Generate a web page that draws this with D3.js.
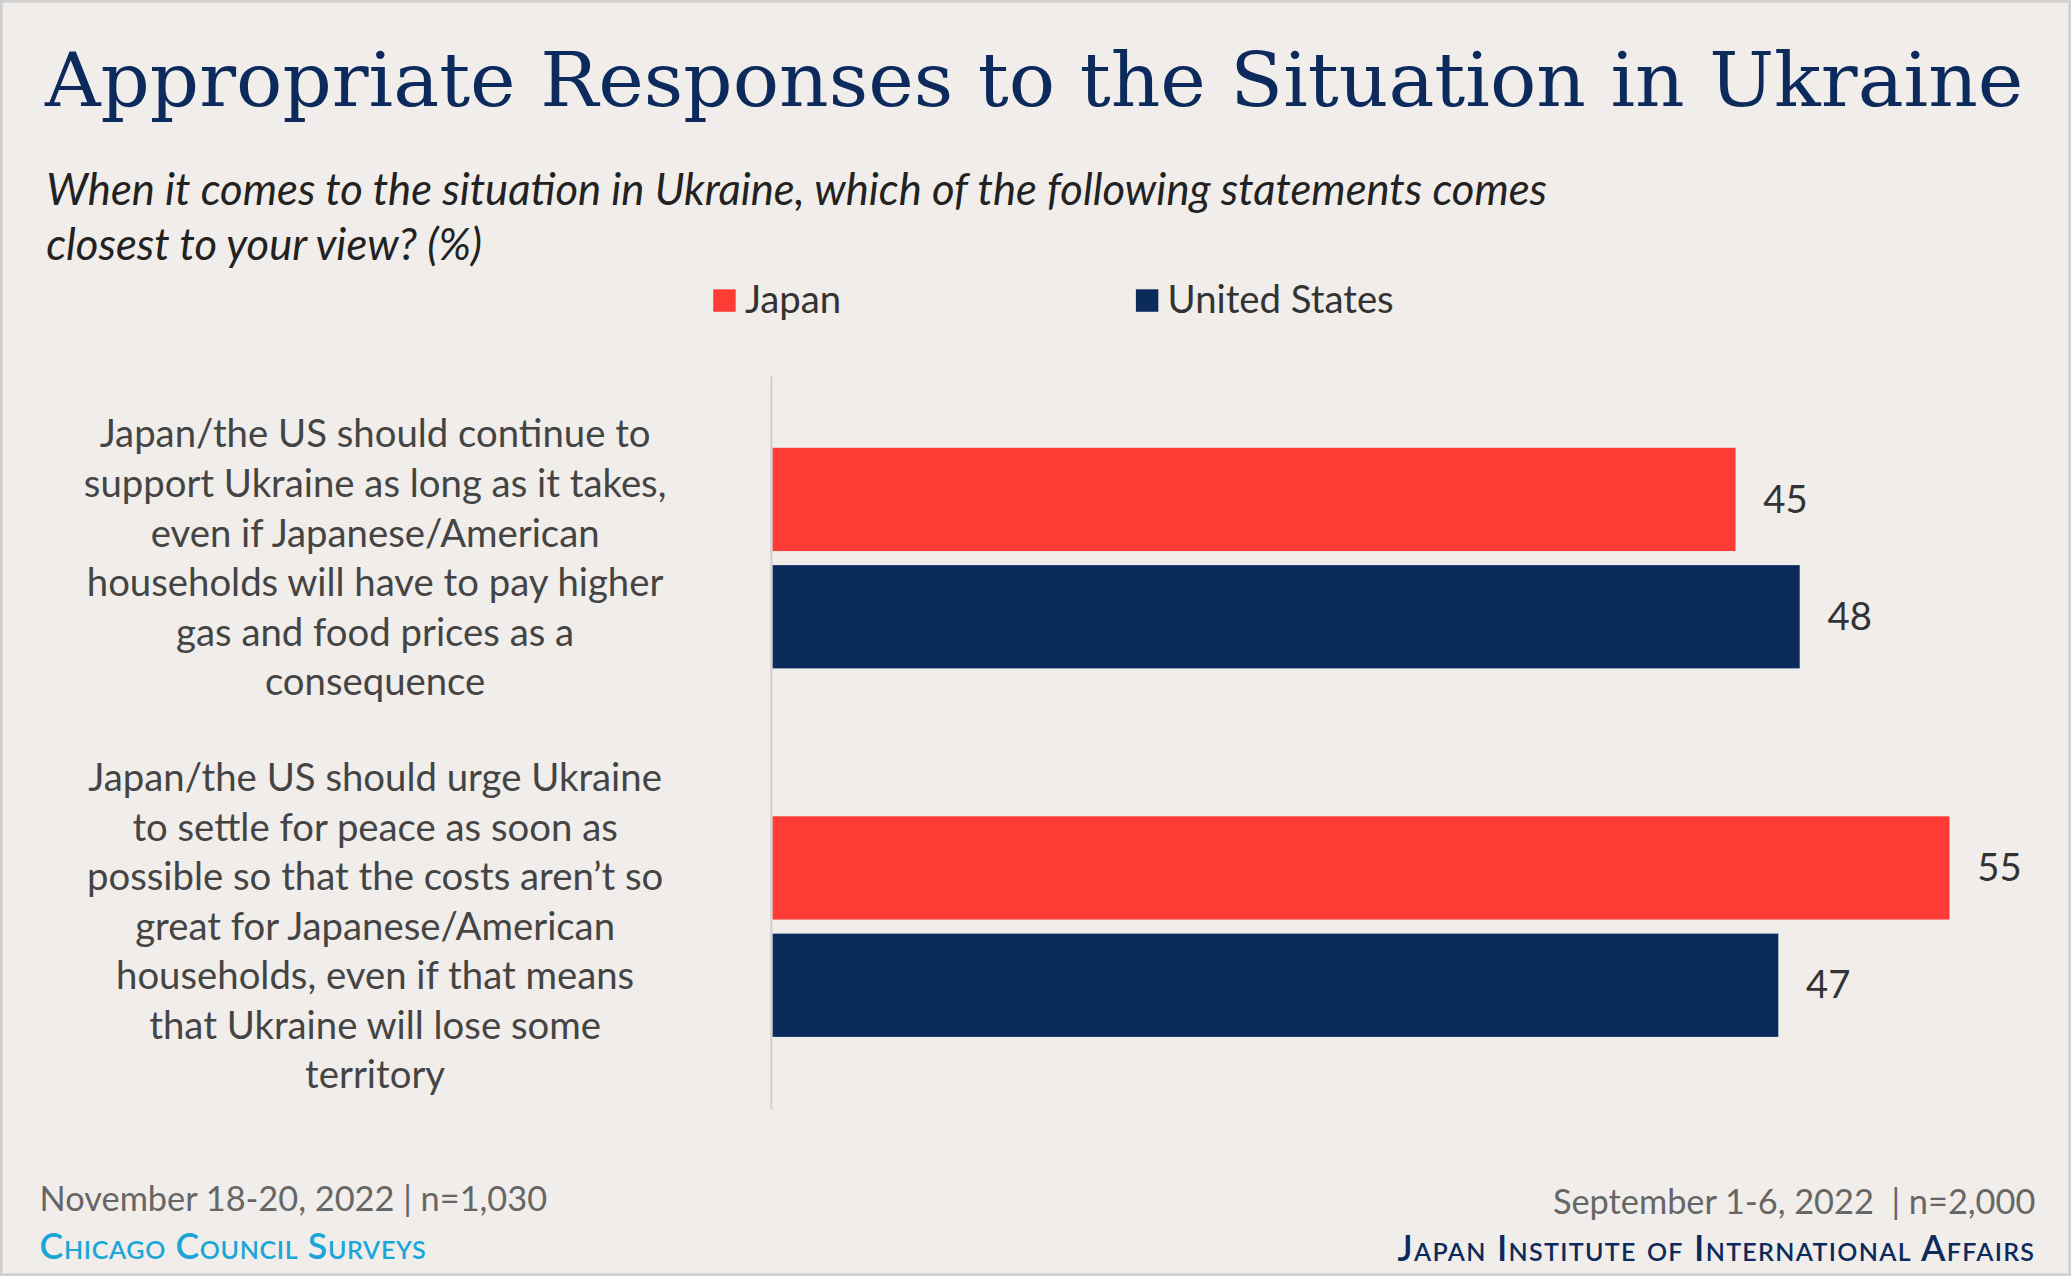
<!DOCTYPE html>
<html><head><meta charset="utf-8">
<script src="https://cdn.jsdelivr.net/npm/d3@7"></script>
<style>
html,body{margin:0;padding:0;background:#f0edea;}
svg{display:block;}
</style></head>
<body>
<svg id="chart"></svg>
<script>
const categories = [
  ["Japan/the US should continue to", "support Ukraine as long as it takes,", "even if Japanese/American", "households will have to pay higher", "gas and food prices as a", "consequence"],
  ["Japan/the US should urge Ukraine", "to settle for peace as soon as", "possible so that the costs aren\u2019t so", "great for Japanese/American", "households, even if that means", "that Ukraine will lose some", "territory"]
];
const seriesNames = ["Japan", "United States"];
const japanValues = [45, 55];
const usValues = [48, 47];
const colors = ["#ff3b36", "#0a2b5c"];

const W = 1568, H = 966;
const svg = d3.select("#chart")
  .attr("width", 2071).attr("height", 1276)
  .attr("viewBox", `0 0 ${W} ${H}`);

svg.append("rect").attr("x", 1).attr("y", 1).attr("width", W - 2).attr("height", H - 2)
  .attr("fill", "#f0edea").attr("stroke", "#cfcfcf").attr("stroke-width", 2);

const sans = "Lato, 'Open Sans', sans-serif";

svg.append("text").attr("x", 34).attr("y", 80)
  .attr("font-family", "'DejaVu Serif', 'Liberation Serif', serif")
  .attr("font-size", 56).attr("fill", "#0c2a5b")
  .attr("textLength", 1498).attr("lengthAdjust", "spacingAndGlyphs")
  .text("Appropriate Responses to the Situation in Ukraine");

["When it comes to the situation in Ukraine, which of the following statements comes",
 "closest to your view? (%)"].forEach((t, i) => {
  svg.append("text").attr("x", 35).attr("y", 155 + i * 42)
    .attr("font-family", sans).attr("font-style", "italic")
    .attr("font-size", 33).attr("fill", "#222").text(t);
});

// legend
const legendX = [540, 860];
seriesNames.forEach((s, i) => {
  svg.append("rect").attr("x", legendX[i]).attr("y", 219).attr("width", 17).attr("height", 17).attr("fill", colors[i]);
  svg.append("text").attr("x", legendX[i] + 24).attr("y", 237)
    .attr("font-family", sans).attr("font-size", 29).attr("fill", "#333").text(s);
});

const x = d3.scaleLinear().domain([0, 55]).range([585, 1476]);
const y = d3.scaleBand().domain([0, 1]).range([292, 850]).paddingInner(0).paddingOuter(0);
const inner = d3.scaleBand().domain([0, 1]).range([0, 167]).paddingInner(0.12);
const groupTop = [339, 618];

svg.append("line").attr("x1", 584).attr("x2", 584).attr("y1", 285).attr("y2", 840)
  .attr("stroke", "#d0d0d0").attr("stroke-width", 1.5);

categories.forEach((lines, g) => {
  const vals = [japanValues[g], usValues[g]];
  vals.forEach((v, s) => {
    const by = groupTop[g] + inner(s);
    svg.append("rect").attr("x", x(0)).attr("y", by)
      .attr("width", x(v) - x(0)).attr("height", inner.bandwidth()).attr("fill", colors[s]);
    svg.append("text").attr("x", x(v) + 21).attr("y", by + inner.bandwidth() / 2 + 10)
      .attr("font-family", sans).attr("font-size", 29).attr("fill", "#333").text(v);
  });
  const cy = groupTop[g] + 167 / 2;
  const lh = 37.5;
  const startY = cy - (lines.length - 1) * lh / 2 + 10;
  lines.forEach((t, i) => {
    svg.append("text").attr("x", 284).attr("y", startY + i * lh).attr("text-anchor", "middle")
      .attr("font-family", sans).attr("font-size", 29).attr("fill", "#444").text(t);
  });
});

// footer
svg.append("text").attr("x", 30).attr("y", 917).attr("font-family", sans).attr("font-size", 26)
  .attr("fill", "#666").text("November 18-20, 2022 | n=1,030");
svg.append("text").attr("x", 30).attr("y", 953).attr("font-family", sans).attr("font-size", 27)
  .attr("font-variant", "small-caps").attr("font-weight", 600).attr("fill", "#1aa6d8")
  .attr("letter-spacing", 0.5).text("Chicago Council Surveys");
svg.append("text").attr("x", 1541).attr("y", 919).attr("text-anchor", "end").attr("font-family", sans)
  .attr("font-size", 26).attr("fill", "#666").attr("xml:space", "preserve").text("September 1-6, 2022  | n=2,000");
svg.append("text").attr("x", 1541).attr("y", 955).attr("text-anchor", "end").attr("font-family", sans)
  .attr("font-size", 27).attr("font-variant", "small-caps").attr("font-weight", 600).attr("fill", "#0c2a5b")
  .attr("letter-spacing", 1).text("Japan Institute of International Affairs");
</script>
</body></html>
